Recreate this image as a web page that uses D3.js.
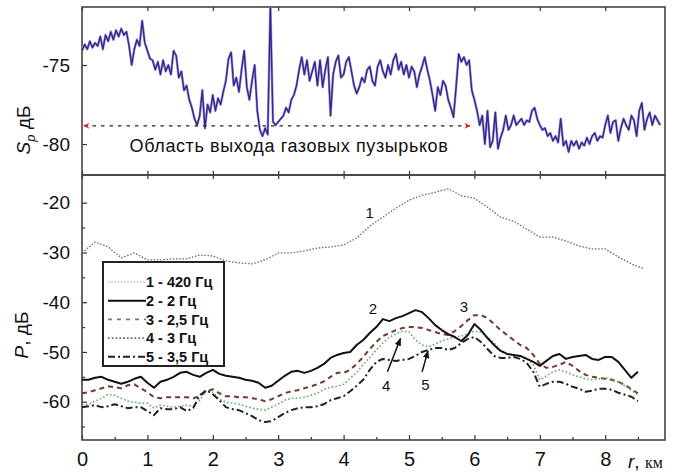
<!DOCTYPE html>
<html>
<head>
<meta charset="utf-8">
<script src="https://cdn.jsdelivr.net/npm/d3@7"></script>
<style>
  body { margin: 0; background: #fff; }
  text { font-family: "Liberation Sans", Arial, sans-serif; fill: #111; }
</style>
</head>
<body>
<svg id="chart" width="691" height="473"></svg>
<script>
// ---- data ----
// Signal level S_p (dB) along the track, sampled every 0.04 km
const spStep = 0.04;
const spLevel = [
  -74.1, -73.7, -74.0, -73.5, -73.9, -73.6, -73.8, -73.2, -74.0, -73.1, -73.5, -72.9, -73.4, -72.8, -73.2, -72.7, -73.1, -72.9, -73.8, -75.0, -74.0, -73.4, -73.8, -72.2, -73.6,
  -74.1, -74.6, -74.7, -75.3, -74.8, -75.6, -74.7, -75.4, -75.0, -75.6, -74.1, -74.4, -75.8, -75.4, -76.6, -76.3, -77.2, -77.7, -78.4, -78.8, -78.2, -76.6, -79.0, -77.5, -78.0,
  -76.9, -77.9, -77.1, -77.5, -76.7, -76.0, -74.6, -74.2, -76.3, -75.8, -76.7, -75.3, -74.1, -76.4, -77.2, -76.0, -75.0, -77.9, -79.1, -79.5, -79.0, -79.4, -71.2, -78.6, -78.8,
  -78.6, -78.4, -78.2, -77.7, -78.0, -77.2, -76.9, -76.3, -75.3, -74.5, -75.6, -74.7, -76.0, -75.4, -74.8, -76.3, -74.7, -76.4, -75.3, -74.5, -78.2, -75.6, -74.8, -74.4, -75.8,
  -75.6, -74.8, -74.5, -75.4, -76.3, -76.8, -76.4, -75.8, -76.1, -75.3, -75.1, -76.0, -76.3, -75.1, -74.7, -75.4, -75.8, -75.0, -75.6, -74.7, -74.3, -75.3, -74.8, -75.6, -75.0,
  -75.8, -75.1, -75.4, -76.4, -75.6, -75.1, -74.5, -75.3, -76.0, -76.9, -77.9, -76.4, -76.9, -76.0, -76.3, -77.2, -77.7, -78.3, -76.4, -74.3, -74.8, -74.5, -75.0, -74.7, -76.6,
  -77.2, -77.9, -78.8, -78.2, -80.0, -77.9, -80.2, -79.8, -78.0, -80.3, -79.6, -79.1, -78.2, -79.1, -78.8, -78.2, -78.8, -78.6, -78.4, -78.8, -78.5, -78.6, -77.9, -77.7, -78.4,
  -78.8, -79.1, -79.0, -79.5, -79.3, -79.8, -79.5, -79.9, -78.4, -80.1, -79.8, -80.5, -79.8, -80.1, -79.8, -80.3, -79.9, -80.1, -79.6, -80.0, -79.5, -79.3, -79.8, -79.5, -79.6,
  -78.8, -78.2, -79.3, -78.6, -78.5, -79.8, -79.0, -78.4, -78.8, -79.1, -78.2, -78.5, -79.5, -77.9, -77.4, -79.1, -78.4, -78.0, -78.8, -78.2, -78.5, -78.8
];

// Field level P (dB) along the track
const step420 = 0.2;
const p420 = [
  -30.1, -27.9, -28.9, -31.1, -30.1, -31.5, -31.5, -31.3, -31.3, -30.5,
  -30.7, -31.7, -32.1, -32.3, -31.5, -30.1, -30.1, -29.7, -29.1, -28.9,
  -28.5, -27.1, -24.7, -22.9, -21.1, -19.5, -18.5, -17.9, -17.2, -18.6,
  -19.1, -20.9, -22.9, -23.7, -25.3, -26.9, -26.9, -27.7, -28.7, -29.3,
  -29.3, -30.9, -32.3, -33.3
];
const lowStep = 0.1;
const p2Hz = [
  -55.6, -55.6, -55.2, -55.0, -55.6, -56.0, -56.4, -56.0, -55.4, -55.0,
  -56.2, -57.2, -56.0, -55.6, -55.0, -54.2, -54.0, -54.6, -55.0, -54.2,
  -53.6, -54.4, -54.8, -55.0, -55.2, -55.6, -55.8, -56.2, -57.2, -56.8,
  -55.8, -54.8, -54.0, -53.8, -54.2, -53.8, -53.2, -52.4, -51.2, -50.6,
  -50.2, -50.0, -48.6, -47.6, -46.2, -45.0, -43.4, -43.8, -43.2, -42.8,
  -42.2, -41.6, -42.0, -43.2, -44.6, -45.6, -46.4, -47.0, -47.8, -46.6,
  -44.4, -45.6, -47.2, -48.6, -49.8, -50.4, -50.6, -50.8, -51.4, -52.0,
  -52.8, -51.8, -50.8, -50.4, -51.4, -51.0, -50.8, -50.6, -51.4, -51.6,
  -51.0, -51.0, -52.0, -53.6, -55.2, -54.0
];
const p25Hz = [
  -58.3, -58.1, -57.7, -57.3, -56.9, -57.1, -57.3, -56.7, -56.5, -57.3,
  -58.1, -59.1, -59.3, -59.1, -59.1, -59.1, -59.1, -59.3, -58.9, -57.9,
  -57.5, -58.3, -58.9, -58.9, -59.1, -59.1, -59.3, -59.5, -59.9, -59.5,
  -58.9, -58.3, -57.9, -57.7, -57.3, -56.9, -56.5, -55.9, -55.0, -54.2,
  -54.2, -53.6, -52.4, -51.0, -49.4, -48.0, -46.8, -46.2, -45.6, -45.2,
  -45.0, -45.0, -45.2, -45.6, -46.0, -46.4, -46.6, -45.8, -44.8, -43.6,
  -42.6, -42.6, -43.2, -44.4, -45.6, -46.6, -47.6, -48.6, -49.2, -50.6,
  -52.4, -53.2, -53.0, -52.6, -52.0, -52.8, -53.8, -54.6, -55.0, -55.2,
  -55.4, -55.6, -56.0, -56.6, -57.5, -58.3
];
const p3Hz = [
  -60.7, -60.5, -59.9, -59.3, -58.5, -58.7, -59.3, -59.9, -60.1, -60.3,
  -60.3, -61.3, -60.7, -60.9, -61.1, -60.9, -60.7, -60.9, -59.7, -57.7,
  -58.1, -59.5, -60.1, -60.3, -60.5, -60.9, -61.3, -61.5, -61.7, -61.1,
  -60.5, -59.7, -59.3, -59.3, -59.1, -58.7, -58.3, -57.5, -57.1, -56.9,
  -56.5, -55.3, -54.1, -52.5, -51.1, -49.6, -48.2, -47.0, -46.4, -45.8,
  -46.0, -47.6, -48.6, -49.0, -48.4, -47.8, -47.4, -47.0, -46.8, -46.4,
  -45.8, -46.0, -47.0, -48.2, -49.6, -50.4, -50.6, -50.8, -51.2, -52.6,
  -55.6, -54.8, -54.0, -53.6, -54.0, -54.6, -55.0, -55.4, -55.6, -55.4,
  -55.2, -55.6, -56.0, -56.8, -57.7, -58.7
];
const p35Hz = [
  -61.1, -60.9, -60.7, -61.1, -60.9, -60.5, -60.9, -61.3, -61.1, -61.1,
  -61.9, -62.7, -61.3, -61.5, -61.5, -61.1, -61.9, -61.3, -58.7, -57.7,
  -58.5, -59.7, -61.1, -61.5, -61.7, -62.3, -62.9, -63.7, -64.1, -63.9,
  -63.1, -62.3, -61.7, -61.3, -61.1, -61.1, -60.9, -60.5, -59.7, -59.3,
  -58.9, -57.9, -56.8, -55.6, -53.6, -52.0, -51.4, -51.6, -51.8, -51.6,
  -51.4, -50.8, -50.0, -49.6, -49.2, -49.2, -49.6, -49.2, -48.2, -47.4,
  -47.0, -48.0, -49.4, -50.8, -51.2, -51.2, -51.0, -51.4, -52.2, -54.0,
  -57.0, -56.4, -56.0, -56.0, -56.4, -57.0, -57.4, -58.0, -57.8, -57.4,
  -57.4, -57.6, -58.2, -58.6, -59.0, -59.9
];

const distTicks = [0, 1, 2, 3, 4, 5, 6, 7, 8];
const spTicks = [-75, -80];
const pTicks = [-20, -30, -40, -50, -60];
const pMinorTicks = [-15, -25, -35, -45, -55, -65];
const legendLabels = ["1 - 420 Гц", "2 - 2 Гц", "3 - 2,5 Гц", "4 - 3 Гц", "5 - 3,5 Гц"];
const curveNumbers = ["1", "2", "3", "4", "5"];
const regionLabel = "Область выхода газовых пузырьков";
const regionSpan = [0.03, 5.93];   // km
const regionLevel = -78.85;        // dB

// ---- layout ----
const svg = d3.select("#chart");
const left = 82, right = 665;
const topY0 = 7, topY1 = 175, botY1 = 440;

const x = d3.scaleLinear().domain([0, 8.914]).range([left, right]);
const yS = d3.scaleLinear().domain([-81.96, -71.33]).range([topY1, topY0]);
const yP = d3.scaleLinear().domain([-67.7, -14.43]).range([botY1, topY1]);

const hyphenFormat = d => String(d);

const defs = svg.append("defs");
defs.append("clipPath").attr("id", "clipTop")
  .append("rect").attr("x", left).attr("y", topY0).attr("width", right - left).attr("height", topY1 - topY0);
defs.append("clipPath").attr("id", "clipBot")
  .append("rect").attr("x", left).attr("y", topY1).attr("width", right - left).attr("height", botY1 - topY1);
defs.append("marker").attr("id", "redHead")
  .attr("viewBox", "0 0 10 10").attr("refX", 9).attr("refY", 5)
  .attr("markerWidth", 11).attr("markerHeight", 6).attr("markerUnits", "userSpaceOnUse")
  .attr("orient", "auto-start-reverse")
  .append("path").attr("d", "M0,0 L10,5 L0,10 L3,5 z").attr("fill", "#d42020");
defs.append("marker").attr("id", "blackHead")
  .attr("viewBox", "0 0 10 10").attr("refX", 9).attr("refY", 5)
  .attr("markerWidth", 8).attr("markerHeight", 8).attr("markerUnits", "userSpaceOnUse")
  .attr("orient", "auto")
  .append("path").attr("d", "M0,1 L10,5 L0,9 z").attr("fill", "#111");

// ---- axes ----
function styleAxis(g) {
  g.select(".domain").remove();
  g.selectAll(".tick line").attr("stroke", "#333").attr("stroke-width", 1.2);
  g.selectAll(".tick text").attr("fill", "#111");
}

// top panel: left ticks
svg.append("g").attr("transform", `translate(${left},0)`)
  .call(d3.axisLeft(yS).tickValues(spTicks).tickSize(-5).tickPadding(12).tickFormat(hyphenFormat))
  .call(styleAxis)
  .selectAll("text").style("font-size", "19px").style("font-family", "Liberation Sans, Arial");

// top panel: bottom and top ticks
svg.append("g").attr("transform", `translate(0,${topY1})`)
  .call(d3.axisBottom(x).tickValues(distTicks).tickSize(-4).tickFormat(""))
  .call(styleAxis);
svg.append("g").attr("transform", `translate(0,${topY0})`)
  .call(d3.axisTop(x).tickValues(distTicks).tickSize(-4).tickFormat(""))
  .call(styleAxis);

// bottom panel: left ticks
svg.append("g").attr("transform", `translate(${left},0)`)
  .call(d3.axisLeft(yP).tickValues(pTicks).tickSize(-5).tickPadding(12).tickFormat(hyphenFormat))
  .call(styleAxis)
  .selectAll("text").style("font-size", "19px").style("font-family", "Liberation Sans, Arial");
svg.append("g").attr("transform", `translate(${left},0)`)
  .call(d3.axisLeft(yP).tickValues(pMinorTicks.filter(v => v > -67 && v < -15)).tickSize(-3).tickFormat(""))
  .call(styleAxis);

// bottom panel: x axis
const minorDist = d3.range(0.5, 8.6, 1);
svg.append("g").attr("transform", `translate(0,${botY1})`)
  .call(d3.axisBottom(x).tickValues(distTicks).tickSize(-5).tickPadding(12).tickFormat(hyphenFormat))
  .call(styleAxis)
  .selectAll("text").style("font-size", "20px").style("font-family", "Liberation Sans, Arial");
svg.append("g").attr("transform", `translate(0,${botY1})`)
  .call(d3.axisBottom(x).tickValues(minorDist).tickSize(-3).tickFormat(""))
  .call(styleAxis);
svg.append("g").attr("transform", `translate(0,${topY1})`)
  .call(d3.axisTop(x).tickValues(distTicks).tickSize(-4).tickFormat(""))
  .call(styleAxis);

// ---- frames ----
svg.append("rect").attr("x", left).attr("y", topY0).attr("width", right - left).attr("height", topY1 - topY0)
  .attr("fill", "none").attr("stroke", "#444").attr("stroke-width", 1.6);
svg.append("rect").attr("x", left).attr("y", topY1).attr("width", right - left).attr("height", botY1 - topY1)
  .attr("fill", "none").attr("stroke", "#444").attr("stroke-width", 1.6);

// ---- top panel series ----
const lineS = d3.line().x((d, i) => x(i * spStep)).y(d => yS(d));
const topG = svg.append("g").attr("clip-path", "url(#clipTop)");
topG.append("path").datum(spLevel).attr("d", lineS)
  .attr("fill", "none").attr("stroke", "#a7a2dc").attr("stroke-width", 2.6).attr("stroke-linejoin", "round");
topG.append("path").datum(spLevel).attr("d", lineS)
  .attr("fill", "none").attr("stroke", "#33288c").attr("stroke-width", 1.4).attr("stroke-linejoin", "round");

// region marker
svg.append("line")
  .attr("x1", x(regionSpan[0])).attr("x2", x(regionSpan[1]))
  .attr("y1", yS(regionLevel)).attr("y2", yS(regionLevel))
  .attr("stroke", "#222").attr("stroke-width", 1.4).attr("stroke-dasharray", "3.5,5")
  .attr("marker-start", "url(#redHead)").attr("marker-end", "url(#redHead)");
svg.append("text").attr("x", 289).attr("y", 152).attr("text-anchor", "middle")
  .style("font-size", "18px").style("letter-spacing", "0.6px").text(regionLabel);

// ---- bottom panel series ----
const botG = svg.append("g").attr("clip-path", "url(#clipBot)");
const series = [
  { values: p420, step: step420, color: "#6f6f6f", width: 1.3, dash: "1.6,1.6" },
  { values: p25Hz, step: lowStep, color: "#6e3a32", width: 2, dash: "5,4" },
  { values: p3Hz, step: lowStep, color: "#5fae62", width: 1.6, dash: "1.6,2.2" },
  { values: p35Hz, step: lowStep, color: "#222", width: 2, dash: "7,3,2,3" },
  { values: p2Hz, step: lowStep, color: "#111", width: 2, dash: null }
];
series.forEach(s => {
  const ln = d3.line().x((d, i) => x(i * s.step)).y(d => yP(d));
  botG.append("path").datum(s.values).attr("d", ln)
    .attr("fill", "none").attr("stroke", s.color).attr("stroke-width", s.width)
    .attr("stroke-dasharray", s.dash).attr("stroke-linejoin", "round");
});

// curve numbers
const numPos = [
  { t: curveNumbers[0], r: 4.4, v: -22.0 },
  { t: curveNumbers[1], r: 4.45, v: -41.4 },
  { t: curveNumbers[2], r: 5.84, v: -41.0 },
  { t: curveNumbers[3], r: 4.65, v: -56.7 },
  { t: curveNumbers[4], r: 5.25, v: -56.5 }
];
numPos.forEach(n => {
  svg.append("text").attr("x", x(n.r)).attr("y", yP(n.v)).attr("text-anchor", "middle")
    .attr("dy", "0.35em").style("font-size", "15px").text(n.t);
});
// leader arrows for curves 4 and 5
[[4.67, -54.0, 4.87, -47.3], [5.2, -54.0, 5.29, -49.8]].forEach(a => {
  svg.append("line").attr("x1", x(a[0])).attr("y1", yP(a[1])).attr("x2", x(a[2])).attr("y2", yP(a[3]))
    .attr("stroke", "#111").attr("stroke-width", 1.5).attr("marker-end", "url(#blackHead)");
});

// ---- legend ----
const lg = svg.append("g");
lg.append("rect").attr("x", 103).attr("y", 262).attr("width", 121).attr("height", 104)
  .attr("fill", "#fff").attr("stroke", "#222").attr("stroke-width", 2);
const legendStyles = [
  { color: "#999", width: 1.2, dash: "1.6,1.6" },
  { color: "#111", width: 2, dash: null },
  { color: "#777", width: 1.8, dash: "4,5" },
  { color: "#666", width: 1.6, dash: "1.6,2.2" },
  { color: "#222", width: 2, dash: "7,3,2,3" }
];
legendLabels.forEach((lab, i) => {
  const yy = 282 + i * 18.7;
  lg.append("line").attr("x1", 108).attr("x2", 146).attr("y1", yy).attr("y2", yy)
    .attr("stroke", legendStyles[i].color).attr("stroke-width", legendStyles[i].width)
    .attr("stroke-dasharray", legendStyles[i].dash);
  lg.append("text").attr("x", 146).attr("y", yy).attr("dy", "0.36em")
    .style("font-size", "14.5px").style("font-weight", "bold").text(lab);
});

// ---- axis titles ----
const tS = svg.append("text").attr("transform", "translate(30,130) rotate(-90)")
  .attr("text-anchor", "middle").style("font-size", "19px");
tS.append("tspan").style("font-style", "italic").text("S");
tS.append("tspan").attr("dy", 5).style("font-size", "13px").style("font-style", "italic").text("p");
tS.append("tspan").attr("dy", -5).text(" дБ");

const tP = svg.append("text").attr("transform", "translate(28,335) rotate(-90)")
  .attr("text-anchor", "middle").style("font-size", "19px");
tP.append("tspan").style("font-style", "italic").text("P");
tP.append("tspan").text(", дБ");

const tR = svg.append("text").attr("x", 628).attr("y", 468).style("font-size", "19px");
tR.append("tspan").style("font-style", "italic").text("r");
tR.append("tspan").text(", ");
tR.append("tspan").style("font-family", "Liberation Serif, Times New Roman, serif").style("font-size", "16px").text("км");
</script>
</body>
</html>
